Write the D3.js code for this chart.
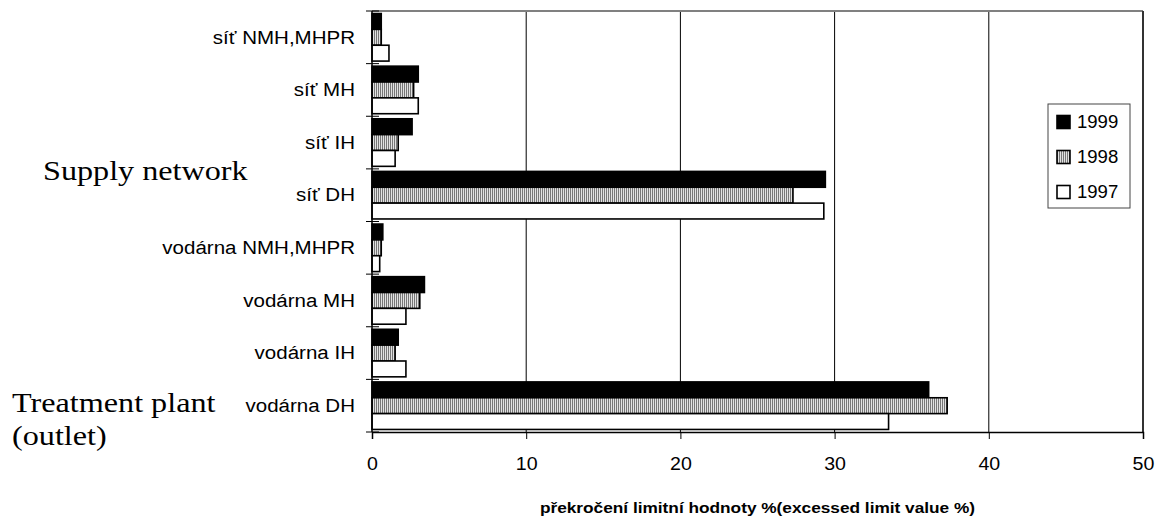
<!DOCTYPE html>
<html>
<head>
<meta charset="utf-8">
<script src="https://cdn.jsdelivr.net/npm/d3@7"></script>
<style>
  body { margin: 0; background: #fff; }
  text { font-family: "Liberation Sans", Arial, sans-serif; fill: #000; }
</style>
</head>
<body>
<svg width="1156" height="521"></svg>
<script>
// data
var categories = ["síť NMH,MHPR", "síť MH", "síť IH", "síť DH",
                  "vodárna NMH,MHPR", "vodárna MH", "vodárna IH", "vodárna DH"];
var years = ["1999", "1998", "1997"];
var v1999 = [0.6, 3.0, 2.6, 29.4, 0.7, 3.4, 1.7, 36.1];
var v1998 = [0.6, 2.7, 1.7, 27.3, 0.6, 3.1, 1.5, 37.3];
var v1997 = [1.1, 3.0, 1.5, 29.3, 0.5, 2.2, 2.2, 33.5];
var xTicks = [0, 10, 20, 30, 40, 50];

var svg = d3.select("svg");
var margin = {top: 11, left: 372, right: 13, bottom: 89};
var width = 1156 - margin.left - margin.right,
    height = 521 - margin.top - margin.bottom;

// the source picture is stretched sideways, so text gets widened too
function stretch(k) {
  return function(sel) {
    sel.each(function() {
      var w = this.getComputedTextLength();
      d3.select(this).attr("textLength", w * k).attr("lengthAdjust", "spacingAndGlyphs");
    });
  };
}

var defs = svg.append("defs");
var pat = defs.append("pattern")
  .attr("id", "hatch")
  .attr("patternUnits", "userSpaceOnUse")
  .attr("width", 2).attr("height", 4);
pat.append("rect").attr("width", 2).attr("height", 4).attr("fill", "#e2e2e2");
pat.append("rect").attr("width", 1).attr("height", 4).attr("fill", "#777");

var fills = {"1999": "#000", "1998": "url(#hatch)", "1997": "#fff"};

var x = d3.scaleLinear().domain([0, 50]).range([0, width]);
var y = d3.scaleBand().domain(categories).range([0, height]);
var ySub = d3.scaleBand().domain(years).range([0, y.bandwidth()]).paddingOuter(0.16);

var rows = categories.map(function(c, i) {
  return {cat: c, vals: [
    {year: "1999", v: v1999[i]},
    {year: "1998", v: v1998[i]},
    {year: "1997", v: v1997[i]}
  ]};
});

var g = svg.append("g").attr("transform", "translate(" + margin.left + "," + margin.top + ")");

// gridlines
g.append("g").selectAll("line")
  .data(xTicks.filter(function(d) { return d > 0 && d < 50; }))
  .enter().append("line")
  .attr("x1", function(d) { return x(d); })
  .attr("x2", function(d) { return x(d); })
  .attr("y1", 0).attr("y2", height)
  .attr("stroke", "#000").attr("stroke-width", 1);

// frame top and right
g.append("line").attr("x1", 0).attr("x2", width).attr("y1", 0).attr("y2", 0)
  .attr("stroke", "#808080").attr("stroke-width", 2);
g.append("line").attr("x1", width).attr("x2", width).attr("y1", 0).attr("y2", height)
  .attr("stroke", "#333").attr("stroke-width", 2);

// bars
var grp = g.selectAll(".cat")
  .data(rows)
  .enter().append("g")
  .attr("class", "cat")
  .attr("transform", function(d) { return "translate(0," + y(d.cat) + ")"; });

grp.selectAll("rect")
  .data(function(d) { return d.vals; })
  .enter().append("rect")
  .attr("x", x(0))
  .attr("y", function(d) { return ySub(d.year); })
  .attr("height", ySub.bandwidth())
  .attr("width", function(d) { return x(d.v) - x(0); })
  .attr("fill", function(d) { return fills[d.year]; })
  .attr("stroke", "#000")
  .attr("stroke-width", 1.6);

// left axis with ticks between categories
var left = g.append("g");
left.append("line").attr("x1", 0).attr("x2", 0).attr("y1", 0).attr("y2", height)
  .attr("stroke", "#000").attr("stroke-width", 1.5);
left.selectAll(".tk")
  .data(categories.map(function(c) { return y(c); }).concat([height]))
  .enter().append("line")
  .attr("x1", -6).attr("x2", 7)
  .attr("y1", function(d) { return d; }).attr("y2", function(d) { return d; })
  .attr("stroke", "#000").attr("stroke-width", 1);
left.selectAll("text")
  .data(categories)
  .enter().append("text")
  .attr("x", -17)
  .attr("y", function(d) { return y(d) + y.bandwidth() / 2; })
  .attr("dy", "0.35em")
  .attr("text-anchor", "end")
  .style("font-size", "18px")
  .text(function(d) { return d; })
  .call(stretch(1.14));

// bottom axis
var xAxis = g.append("g")
  .attr("transform", "translate(0," + height + ")")
  .call(d3.axisBottom(x).tickValues(xTicks).tickSize(7).tickPadding(18));
xAxis.select(".domain").attr("stroke", "#000").attr("stroke-width", 1.5);
xAxis.selectAll(".tick line").attr("stroke", "#000");
xAxis.selectAll(".tick text")
  .style("font-family", '"Liberation Sans", Arial, sans-serif')
  .style("font-size", "18.5px")
  .attr("fill", "#000")
  .call(stretch(1.06));

// axis title
svg.append("text")
  .attr("x", margin.left + width / 2)
  .attr("y", 513)
  .attr("text-anchor", "middle")
  .style("font-size", "15px")
  .style("font-weight", "bold")
  .text("překročení limitní hodnoty %(excessed limit value %)")
  .call(stretch(1.15));

// group notes
var serif = '"Liberation Serif", "Times New Roman", serif';
svg.append("text").attr("x", 43).attr("y", 180)
  .style("font-family", serif).style("font-size", "27.5px")
  .text("Supply network").call(stretch(1.17));
svg.append("text").attr("x", 12).attr("y", 412)
  .style("font-family", serif).style("font-size", "27.5px")
  .text("Treatment plant").call(stretch(1.17));
svg.append("text").attr("x", 12).attr("y", 445)
  .style("font-family", serif).style("font-size", "27.5px")
  .text("(outlet)").call(stretch(1.17));

// legend
var legend = svg.append("g").attr("transform", "translate(1048,104)");
legend.append("rect")
  .attr("width", 82).attr("height", 104)
  .attr("fill", "#fff").attr("stroke", "#444").attr("stroke-width", 1);
var item = legend.selectAll(".item")
  .data(years)
  .enter().append("g")
  .attr("class", "item")
  .attr("transform", function(d, i) { return "translate(9," + (18 + i * 35) + ")"; });
item.append("rect")
  .attr("x", 0).attr("y", -6.5)
  .attr("width", 13).attr("height", 13)
  .attr("fill", function(d) { return fills[d]; })
  .attr("stroke", "#000").attr("stroke-width", 1.6);
item.append("text")
  .attr("x", 20).attr("dy", "0.36em")
  .style("font-size", "18px")
  .text(function(d) { return d; })
  .call(stretch(1.03));
</script>
</body>
</html>
